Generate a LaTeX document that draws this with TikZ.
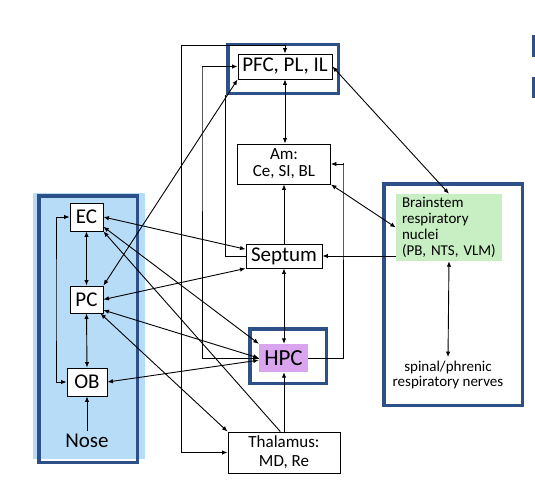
\documentclass[tikz,border=0pt]{standalone}
\usepackage{fontspec}
\setmainfont{Carlito}
\usetikzlibrary{arrows.meta, positioning, calc}
\definecolor{groupblue}{RGB}{44, 80, 135}
\definecolor{noseblue}{RGB}{182, 220, 248}
\definecolor{stemgreen}{RGB}{200, 238, 195}
\definecolor{hpcpurple}{RGB}{218, 165, 238}
\newcommand{\lblfont}{\fontsize{21}{24}\selectfont}

\begin{document}
\begin{tikzpicture}[x=1pt, y=-1pt,
    >={Latex[length=5.5pt, width=4.5pt]},
    box/.style={draw, line width=0.9pt, inner sep=0pt, align=center, fill=white},
    grp/.style={draw=groupblue, line width=3.5pt, inner sep=0pt},
    link/.style={line width=0.9pt}]

    \useasboundingbox (0,0) rectangle (535,503);

    % GROUP FRAMES
    \fill[noseblue] (33,193) rectangle (145,459);
    \node[grp, minimum width=98.5pt, minimum height=266.5pt]
        (nosegrp) at (88,329) {};
    \node[grp, minimum width=110.5pt, minimum height=48.5pt]
        (pfcgrp) at (283,69) {};
    \node[grp, minimum width=76.5pt, minimum height=54.5pt]
        (hpcgrp) at (288,356) {};
    \node[grp, minimum width=138.5pt, minimum height=221.5pt]
        (stemgrp) at (453,294.5) {};
    \fill[groupblue] (532,35) rectangle (535,57);
    \fill[groupblue] (532,77) rectangle (535,98);

    % OLFACTORY COLUMN
    \node[box, minimum width=33pt, minimum height=28pt, font=\lblfont]
        (ec) at (86.5,217) {EC};
    \node[box, minimum width=33pt, minimum height=27pt, font=\lblfont]
        (pc) at (86.5,299.5) {PC};
    \node[box, minimum width=40pt, minimum height=28pt, font=\lblfont]
        (ob) at (87,382) {OB};
    \node[font=\lblfont] (nose) at (87,441) {Nose};

    % CENTRAL COLUMN
    \node[box, minimum width=94pt, minimum height=25pt, font=\lblfont]
        (pfc) at (285,66.5) {PFC, PL, IL};
    \node[box, minimum width=93pt, minimum height=40pt,
          font=\fontsize{17}{17}\selectfont]
        (am) at (284,164) {Am:\\Ce, SI, BL};
    \node[box, minimum width=76pt, minimum height=24pt, font=\lblfont]
        (septum) at (284,256) {Septum};
    \node[fill=hpcpurple, minimum width=49pt, minimum height=28pt,
          inner sep=0pt, font=\fontsize{23}{26}\selectfont]
        (hpc) at (283.5,358) {HPC};
    \node[box, minimum width=112pt, minimum height=41pt,
          font=\fontsize{17}{19}\selectfont]
        (thal) at (284,452.5) {Thalamus:\\MD, Re};

    % BRAINSTEM
    \node[fill=stemgreen, text width=94pt, minimum height=67pt,
          inner xsep=6pt, align=left, font=\fontsize{15}{16}\selectfont]
        (brain) at (449,227.5)
        {Brainstem\\respiratory\\nuclei\\(PB, NTS, VLM)};
    \node[align=center, font=\fontsize{15}{15}\selectfont]
        (spinal) at (448,374.5) {spinal/phrenic\\respiratory nerves};

    % ROUTED CONNECTORS
    \coordinate (thalup) at (181,45);
    \coordinate (hpcup) at (202,67);
    \coordinate (septleft) at (225,95);
    \coordinate (amside) at (343,163);
    \coordinate (nosebrack) at (56,300);
    \draw[link, <->] (thal.west) -| (thalup) -| (pfc.north);
    \draw[link, ->] (hpc.west) -| (hpcup) |- (pfc.west);
    \draw[link] (septum.west) -| (septleft);
    \draw[link, ->] (hpc.east) -| (amside) |- (am.east);
    \draw[link, <->] (ec.west) -| (nosebrack) |- (ob.west);

    % STRAIGHT CONNECTORS
    \draw[link, <->] (pfc.south) -- (pfc.south |- am.north);
    \draw[link, ->] (septum.north) -- (am.south);
    \draw[link, <->] (septum.south) -- (septum.south |- hpc.north);
    \draw[link, ->] (thal.north) -- (thal.north |- hpc.south);
    \draw[link, ->] (brain.west |- septum.east) -- (septum.east);
    \draw[link, <->] (am.south east) -- (brain.west);
    \draw[link, <->] (pfc.east) -- (brain.north);
    \draw[link, <->] (brain.south) -- (spinal.north);
    \draw[link, ->] (nose.north) -- (ob.south);
    \draw[link, <->] (ec.south) -- (pc.north);
    \draw[link, <->] (pc.south) -- (ob.north);
    \draw[link, <->] (ec.east) -- (septum.170);
    \draw[link, <->] (pc.east) -- (septum.south west);
    \draw[link, <->] (pc.north east) -- (pfc.south west);
    \draw[link, <->] (ec.-30) -- (hpc.north west);
    \draw[link, <-] (ec.south east) -- (thal.100);
    \draw[link, <->] (pc.-45) -- (thal.north west);
    \draw[link, <->] (pc.-32) -- (hpc.west);
    \draw[link, <->] (ob.east) -- (hpc.185);

\end{tikzpicture}
\end{document}
